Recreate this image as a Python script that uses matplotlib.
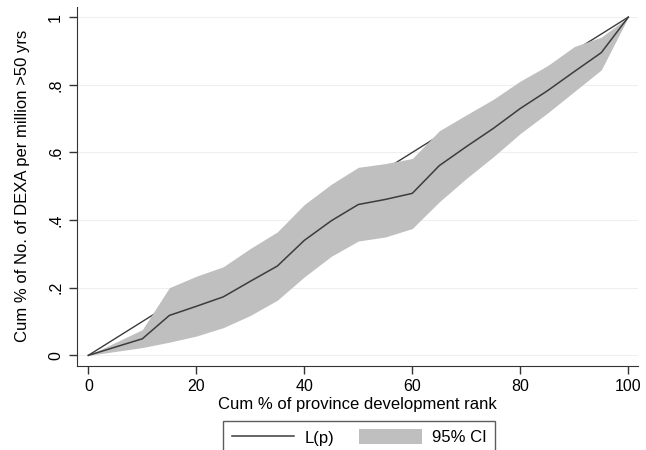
import matplotlib
matplotlib.use("Agg")
import matplotlib.pyplot as plt
from matplotlib.patches import Patch
from matplotlib.lines import Line2D

plt.rcParams['font.family'] = ['Liberation Sans', 'DejaVu Sans']

x = [0, 10, 15, 20, 25, 30, 35, 40, 45, 50, 55, 60, 65, 70, 75, 80, 85, 90, 95, 100]
lp = [0, 0.049, 0.118, 0.145, 0.173, 0.219, 0.264, 0.340, 0.398, 0.446, 0.461, 0.479,
      0.561, 0.617, 0.671, 0.730, 0.782, 0.839, 0.895, 1.0]
ci_upper = [0, 0.076, 0.200, 0.234, 0.262, 0.316, 0.365, 0.446, 0.506, 0.556, 0.567, 0.582,
            0.664, 0.711, 0.757, 0.811, 0.856, 0.913, 0.941, 1.0]
ci_lower = [0, 0.023, 0.039, 0.057, 0.082, 0.118, 0.163, 0.232, 0.293, 0.338, 0.350, 0.375,
            0.454, 0.523, 0.587, 0.656, 0.716, 0.780, 0.844, 1.0]
equality_x = [0, 100]
equality_y = [0, 1]

xticks = [0, 20, 40, 60, 80, 100]
yticks = [0, 0.2, 0.4, 0.6, 0.8, 1.0]
ytick_labels = ["0", ".2", ".4", ".6", ".8", "1"]

fig = plt.figure(figsize=(6.46, 4.5), dpi=100)
ax = fig.add_axes([77/646, 1 - 365.5/450, (638 - 77)/646, (365.5 - 7)/450])

line_col = '#3c3c3c'
band_col = '#bfbfbf'

for yt in yticks:
    ax.axhline(yt, color='#efefef', lw=0.8, zorder=0)
ax.plot(equality_x, equality_y, color=line_col, lw=1.0, zorder=1)
ax.fill_between(x, ci_lower, ci_upper, color=band_col, lw=0, zorder=2)
ax.plot(x, lp, color=line_col, lw=1.1, zorder=3)

ax.set_xlim(-2.1, 101.8)
ax.set_ylim(-0.03, 1.03)
ax.set_xticks(xticks)
ax.set_yticks(yticks)
ax.set_yticklabels(ytick_labels, rotation=90, va='center')
ax.tick_params(axis='both', labelsize=11.5, length=6, width=1, color='#333333', pad=4)
for s in ['top', 'right']:
    ax.spines[s].set_visible(False)
for s in ['left', 'bottom']:
    ax.spines[s].set_color('#333333')
ax.set_xlabel("Cum % of province development rank", fontsize=12, labelpad=2)
ax.set_ylabel("Cum % of No. of DEXA per million >50 yrs", fontsize=12, labelpad=13)

handles = [Line2D([0], [0], color=line_col, lw=1.1),
           Patch(facecolor=band_col, edgecolor='none')]
leg = fig.legend(handles, ["L(p)", "95% CI"], loc='upper center',
                 bbox_to_anchor=(359/646, 1 - 421/450), ncol=2, fontsize=12,
                 frameon=True, fancybox=False, edgecolor='#333333',
                 handlelength=3.76, handleheight=1.0, columnspacing=1.5, handletextpad=0.6,
                 borderpad=0.5, borderaxespad=0)
leg.get_frame().set_linewidth(1.0)

fig.savefig("out.png", dpi=100)
